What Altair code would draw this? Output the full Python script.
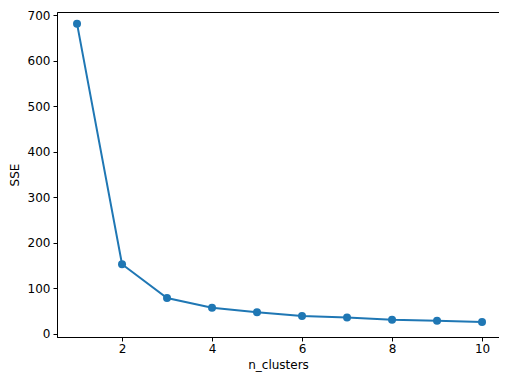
import altair as alt
import pandas as pd

n_clusters = [1, 2, 3, 4, 5, 6, 7, 8, 9, 10]
sse = [681, 153, 79, 57.5, 47.5, 39.5, 36, 31, 29, 26.5]

df = pd.DataFrame({"n_clusters": n_clusters, "SSE": sse})

x = alt.X("n_clusters:Q", title="n_clusters",
          scale=alt.Scale(domain=[0.555, 10.377], nice=False, zero=False),
          axis=alt.Axis(values=[2, 4, 6, 8, 10], format="d",
                        titleBaseline="alphabetic", titleY=31, labelPadding=2))
y = alt.Y("SSE:Q", title="SSE",
          scale=alt.Scale(domain=[-6.6, 706.6], nice=False, zero=False),
          axis=alt.Axis(values=[0, 100, 200, 300, 400, 500, 600, 700], format="d"))

line = alt.Chart(df).mark_line(color="#1f77b4", strokeWidth=2).encode(x=x, y=y)
pts = alt.Chart(df).mark_circle(color="#1f77b4", size=64, opacity=1).encode(x=x, y=y)

chart = (line + pts).properties(
    width=442, height=325,
    autosize=alt.AutoSizeParams(type="none"),
    padding={"left": 49, "top": 4, "right": 0, "bottom": 36},
).configure_view(
    stroke="black", strokeWidth=1
).configure_axis(
    grid=False,
    domainColor="black",
    tickColor="black",
    tickSize=4,
    labelFont="DejaVu Sans",
    labelFontSize=12,
    labelColor="black",
    titleFont="DejaVu Sans",
    titleFontSize=12,
    titleFontWeight="normal",
    titleColor="black",
    labelPadding=3,
).configure_axisY(
    titlePadding=6
)

chart.save("out.html", embed_options={"renderer": "svg", "actions": False})
